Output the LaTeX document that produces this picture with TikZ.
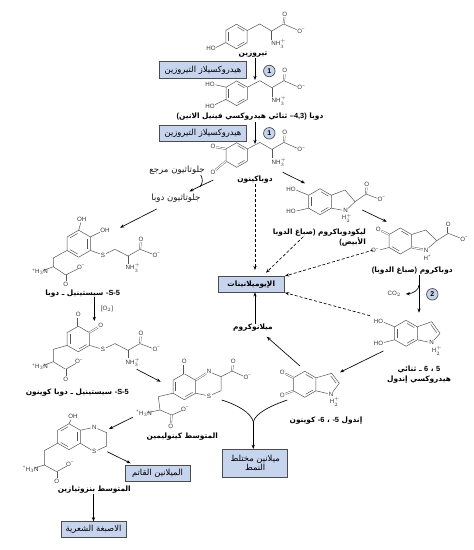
\documentclass[tikz,border=0pt]{standalone}
\usepackage{fontspec}
\usetikzlibrary{arrows.meta}
\setmainfont{Liberation Sans}
\newfontfamily\arf[Script=Arabic]{DejaVu Sans}
\TeXXeTstate=1
\definecolor{boxfill}{HTML}{C6D4EE}
\definecolor{bond}{HTML}{555555}
\tikzset{
 x=1pt,y=-1pt,
 bd/.style={draw=bond,line width=.5pt},
 dbd/.style={draw=bond,double,double distance=1.1pt,line width=.4pt},
 toL/.style={shorten >=3.4pt},
 fromL/.style={shorten <=3.4pt},
 chem/.style={inner sep=0pt,font=\fontsize{6.2}{7}\selectfont,text=black!80},
 name1/.style={inner sep=0pt,align=center,font=\arf\bfseries\fontsize{7.4}{14}\selectfont},
 plain1/.style={inner sep=0pt,align=center,font=\arf\fontsize{8.6}{14}\selectfont,text=black!90},
 enz/.style={draw=black!70,line width=.7pt,fill=boxfill,inner sep=0pt,align=center,font=\arf\fontsize{8.4}{13}\selectfont},
 stepnum/.style={circle,draw=black!70,line width=.7pt,fill=boxfill,minimum size=11.5pt,inner sep=0pt,font=\bfseries\fontsize{7}{8}\selectfont},
 arr/.style={-{Stealth[length=4.2pt,width=3.2pt]},line width=.65pt,black},
 darr/.style={arr,densely dashed},
}
\newcommand\hexring[4]{\begin{scope}[shift={(#1,#2)},scale=#3]
 \draw[bd] (0,-1)--(.866,-.5)--(.866,.5)--(0,1)--(-.866,.5)--(-.866,-.5)--cycle;
 \foreach \b in {#4}{\ifcase\b\or
 \draw[bd](.08,-.76)--(.64,-.44);\or
 \draw[bd](.66,-.36)--(.66,.36);\or
 \draw[bd](.64,.44)--(.08,.76);\or
 \draw[bd](-.08,.76)--(-.64,.44);\or
 \draw[bd](-.66,.36)--(-.66,-.36);\or
 \draw[bd](-.64,-.44)--(-.08,-.76);\fi}
\end{scope}}
\newcommand\ala[2]{\begin{scope}[shift={(#1,#2)}]
 \draw[bd](0,0)--(12.5,-6.5)--(24.5,.5)--(36.5,-6.5);
 \draw[bd,toL](36.5,-6.5)--(52.5,.5);
 \draw[dbd,toL](36.5,-6.5)--(37.5,-16.5);
 \draw[bd](24.5,.5)--(24.5,9.5);
 \node[chem] at (37.5,-16.5){O};
 \node[chem] at (54,.5){O\textsuperscript{−}};
 \node[chem] at (31.5,13.5){NH$_3^+$};
\end{scope}}
\newcommand\cyst[2]{\begin{scope}[shift={(#1,#2)}]
 \node[chem] at (0,0){S};
 \draw[bd,fromL](0,0)--(12,-5.7)--(25,1)--(37,-5.7);
 \draw[bd,toL](37,-5.7)--(52,0);
 \draw[dbd,toL](37,-5.7)--(38,-16);
 \draw[bd](25,1)--(25,8.5);
 \node[chem] at (53.5,0){O\textsuperscript{−}};
 \node[chem] at (38,-16){O};
 \node[chem] at (30,13){NH$_3^+$};
\end{scope}}
% LL vertex, CH2, CH, N label, C, O- label, O label
\newcommand\ltail[7]{
 \draw[bd](#1)--(#2)--(#3)--(#5);
 \draw[bd,toL](#3)--(#4);
 \draw[bd,toL](#5)--(#6);
 \draw[dbd,toL](#5)--(#7);
 \node[chem] at (#4){\textsuperscript{+}H$_3$N};
 \node[chem] at (#6){O\textsuperscript{−}};
 \node[chem] at (#7){O};
}
\newcommand\ar[1]{\beginR #1\endR}
\newcommand\lt[1]{\beginL{\rmfamily #1}\endL{}}
\begin{document}
\begin{tikzpicture}
\useasboundingbox (0,0) rectangle (474,550);
% ---- tyrosine
\hexring{236.5}{36.5}{12.3}{5,1,3}
\draw[bd,toL](225.8,42.6)--(213,49);
\node[chem] (hoT) at (211,48){HO};
\ala{247.2}{30.5}
\node[name1] (tyr) at (253,54.5){\ar{تيروزين}};
% ---- DOPA
\hexring{236.7}{93.3}{12.3}{5,1,3}
\draw[bd,toL](226,87.2)--(212,84);
\draw[bd,toL](226,99.4)--(212,106);
\node[chem] at (210,84){HO};
\node[chem] at (210,106){HO};
\ala{247.4}{87.2}
\node[name1] (dopa) at (250,116.7){\ar{دوبا \lt{–4,3)} ثنائي هيدروكسي فينيل الانين\lt{(}}};
% ---- dopaquinone
\hexring{236.7}{155}{12.3}{1,3}
\draw[dbd,toL](226,148.9)--(213,146.7);
\draw[dbd,toL](226,161.1)--(213,172);
\node[chem] at (213,146.7){O};
\node[chem] at (213,172){O};
\ala{247.4}{148.9}
\node[name1] (dq) at (255,180){\ar{دوباكينون}};
% ---- enzyme boxes
\node[enz,minimum width=87pt,minimum height=17pt] (e1) at (203,70.3){\ar{هيدروكسيلاز التيروزين}};
\node[enz,minimum width=87pt,minimum height=16.5pt] (e2) at (203,133.3){\ar{هيدروكسيلاز التيروزين}};
\node[stepnum] (n1) at (269.3,71){1};
\node[stepnum] (n2) at (269.3,133.3){1};
% ---- glutathione
\node[plain1] (gsh) at (177,170){\ar{جلوتاثيون مرجع}};
\node[plain1] (gsd) at (176,198){\ar{جلوتاثيون دوبا}};
% ---- S-cysteinyl dopa
\hexring{78.7}{243.7}{13.5}{2,6,4}
\draw[bd,toL](78.7,230.2)--(81.7,219.3);
\draw[bd,toL](90.4,236.9)--(103,230.7);
\draw[bd,toL](90.4,250.4)--(103,255);
\node[chem] at (81.7,219.3){OH};
\node[chem] at (105,230.7){OH};
\cyst{103}{255}
\ltail{67,250.4}{53.3,258}{53.3,266.7}{40,271.7}{65.7,275}{81,267.3}{65.7,284}
\node[name1] (cd) at (82.7,293.3){\ar{\lt{-S-5} سيستينيل ـ دوبا}};
\node[chem] (o2) at (107,309){[O$_2$]};
% ---- S-cysteinyl dopaquinone
\hexring{78.3}{339}{12.8}{5,3}
\draw[dbd,toL](78.3,326.2)--(78.3,314.3);
\draw[dbd,toL](89.4,332.6)--(100.7,325.7);
\draw[bd,toL](89.4,345.4)--(103,349.3);
\node[chem] at (78.3,314.3){O};
\node[chem] at (100.7,325.7){O};
\cyst{103}{349.3}
\ltail{67.2,345.4}{53.3,349.3}{53.3,361.7}{40,366.7}{65.7,369.3}{79,361.7}{65.7,379}
\node[name1] (cq) at (77.3,392.3){\ar{\lt{-S-5} سيستينيل ـ دوبا كوينون}};
% ---- quinolimine
\hexring{184.3}{386.7}{13}{5,3}
\draw[dbd,toL](184.3,373.7)--(184.3,361.7);
\node[chem] at (184.3,361.7){O};
\draw[dbd,toL](195.6,380.2)--(209,371.7);
\node[chem] at (209,371.7){N};
\draw[bd,fromL](209,371.7)--(221,376.7)--(221,390.7);
\draw[bd,toL](221,390.7)--(209,396);
\draw[bd,toL](195.6,393.2)--(209,396);
\node[chem] at (209,396){S};
\draw[bd](221,376.7)--(232,371);
\draw[dbd,toL](232,371)--(233.3,361.7);
\draw[bd,toL](232,371)--(246,377.3);
\node[chem] at (233.3,361.7){O};
\node[chem] at (247.5,377.3){O\textsuperscript{−}};
\ltail{173,393.2}{158.3,396.7}{160,410}{144,413.3}{171.7,415}{185,409.3}{170.7,426}
\node[name1] (qi) at (182.3,436.7){\ar{المتوسط كينوليمين}};
% ---- benzothiazine
\hexring{69}{436.7}{13}{2,6,4}
\draw[bd,toL](69,423.7)--(72.3,416.7);
\node[chem] at (73,416.7){OH};
\draw[bd,toL](80.3,430.2)--(94.3,427.3);
\node[chem] at (94.3,427.3){N};
\draw[bd,fromL](94.3,427.3)--(106.7,432.7)--(106.7,446);
\draw[bd,toL](106.7,446)--(94.3,451.7);
\draw[bd,toL](80.3,443.2)--(94.3,451.7);
\node[chem] at (94.3,451.7){S};
\ltail{57.7,443.2}{44.3,450.7}{44.3,465}{30.7,469.3}{56.7,471.7}{70,464.3}{56.7,481}
\node[name1] (bz) at (94.3,490){\ar{المتوسط بنزوثيازين}};
% ---- boxes low
\node[enz,minimum width=65pt,minimum height=15.5pt] (dark) at (157.5,473.3){\ar{الميلانين القاتم}};
\node[enz,minimum width=65pt,minimum height=15.5pt] (hair) at (93.5,529.5){\ar{الاصبغة الشعرية}};
\node[enz,minimum width=65pt,minimum height=28pt] (mix) at (255.2,463.3){\ar{ميلانين مختلط}\\[-4pt]\ar{النمط}};
\node[enz,minimum width=66pt,minimum height=15.5pt,font=\arf\bfseries\fontsize{7.4}{13}\selectfont] (eu) at (251.2,284.2){\ar{الإيوميلانينات}};
% ---- leucodopachrome
\hexring{320}{201.7}{13}{5,1,3}
\draw[bd,toL](308.7,195.2)--(293.3,189);
\draw[bd,toL](308.7,208.2)--(293.3,211.7);
\node[chem] at (291,189){HO};
\node[chem] at (291,211.7){HO};
\draw[bd](331.3,195.2)--(345,190)--(355,201.7);
\draw[bd,toL](331.3,208.2)--(345.7,210.7);
\draw[bd,toL](355,201.7)--(345.7,210.7);
\node[chem] at (345.7,210.7){N};
\node[chem] at (347,218.2){H$_2^+$};
\draw[bd](355,201.7)--(366,194);
\draw[dbd,toL](366,194)--(366.7,184.3);
\draw[bd,toL](366,194)--(380,199.3);
\node[chem] at (366.7,184.3){O};
\node[chem] at (381.5,199.3){O\textsuperscript{−}};
\node[name1,align=right,anchor=east] (ld) at (366,237.5){\ar{ليكودوباكروم \lt{)}صباغ الدوبا}\\[-4pt]\ar{الأبيض\lt{(}}};
% ---- dopachrome
\hexring{400.3}{241}{13}{1,4}
\draw[dbd,toL](389,234.5)--(378.3,229.3);
\draw[bd,toL](389,247.5)--(376.7,250.7);
\node[chem] at (378.3,229.3){O};
\node[chem] at (375,250.7){O\textsuperscript{−}};
\draw[bd](411.6,234.5)--(425.7,230)--(436.7,240.7);
\draw[dbd,toL](411.6,247.5)--(426,250);
\draw[bd,toL](436.7,240.7)--(426,250);
\node[chem] at (426,250){N};
\node[chem] at (427.5,257.5){H\textsuperscript{+}};
\draw[bd](436.7,240.7)--(448.3,233.3);
\draw[dbd,toL](448.3,233.3)--(448.3,224);
\draw[bd,toL](448.3,233.3)--(462.7,239);
\node[chem] at (448.3,224){O};
\node[chem] at (464.2,239){O\textsuperscript{−}};
\node[name1] (dc) at (412.3,270.7){\ar{دوباكروم \lt{)}صباغ الدوبا\lt{(}}};
\node[chem] (co2) at (394.3,294){CO$_2$};
\node[stepnum] (n3) at (432.3,294.3){2};
% ---- DHI
\hexring{406}{333.3}{13}{5,1,3}
\draw[bd,toL](394.7,326.8)--(380.7,321);
\draw[bd,toL](394.7,339.8)--(380.7,343.3);
\node[chem] at (378.5,321){HO};
\node[chem] at (378.5,343.3){HO};
\draw[bd](417.3,326.8)--(431.7,321.7)--(440,333.3);
\draw[bd](430.8,324.4)--(436.6,332.6);
\draw[bd,toL](440,333.3)--(431.7,342.7);
\draw[bd,toL](417.3,339.8)--(431.7,342.7);
\node[chem] at (431.7,342.7){N};
\node[chem] at (437,350.5){H$_2^+$};
\node[name1] (dhi) at (419,375){\ar{\lt{5} ، \lt{6} ـ ثنائي}\\[-4pt]\ar{هيدروكسي إندول}};
% ---- indolequinone
\hexring{304.7}{384.3}{13}{1,3}
\draw[dbd,toL](293.4,377.8)--(282.3,372.3);
\draw[dbd,toL](293.4,390.8)--(282.3,395);
\node[chem] at (282.3,372.3){O};
\node[chem] at (282.3,395){O};
\draw[bd](316,377.8)--(331.7,373.3)--(339.3,383.3);
\draw[bd](330.8,376)--(336.2,383.2);
\draw[bd,toL](339.3,383.3)--(331,394.3);
\draw[bd,toL](316,390.8)--(331,394.3);
\node[chem] at (331,394.3){N};
\node[chem] at (335,402){H$_2^+$};
\node[name1] (iq) at (326,421){\ar{إندول \lt{-5} ، \lt{-6} كوينون}};
\node[name1] (mc) at (253,328){\ar{ميلانوكروم}};
% ---- free connector ends
\coordinate (a1s) at (255,58); \coordinate (a1e) at (255,80);
\coordinate (a2s) at (255,122); \coordinate (a2e) at (255,144);
\coordinate (g1) at (213.3,180); \coordinate (g2) at (189.5,191.5); \coordinate (g3) at (200.7,175); \coordinate (g4) at (200,186.7);
\coordinate (b1s) at (156.7,209); \coordinate (b1e) at (120,227.7);
\coordinate (b2s) at (94.3,297); \coordinate (b2e) at (94.3,321);
\coordinate (b3s) at (136.7,369.3); \coordinate (b3e) at (160.7,381.7);
\coordinate (b4s) at (132.7,417.3); \coordinate (b4e) at (109,429);
\coordinate (b5s) at (107.3,451.7); \coordinate (b5e) at (130.7,463.3);
\coordinate (c1s) at (282.7,172.3); \coordinate (c1e) at (305,183.3);
\coordinate (c2s) at (362.3,210); \coordinate (c2e) at (386.7,221.7);
\coordinate (c3s) at (419,275); \coordinate (c3e) at (419,312.7); \coordinate (c3m) at (419,285);
\coordinate (c4e) at (405.7,294);
\coordinate (c5s) at (383.3,351); \coordinate (c5e) at (340,372.3);
\coordinate (c6s) at (300,366); \coordinate (c6e) at (266.7,336.7);
\coordinate (m1) at (221.7,400); \coordinate (m2) at (287.3,400); \coordinate (mm) at (253.3,421.7);
\coordinate (d1s) at (255,184); \coordinate (d1e) at (255,270);
\coordinate (d2s) at (303.3,236.7); \coordinate (d2e) at (266,272.7);
\coordinate (d3s) at (373.3,250); \coordinate (d3e) at (285,276);
\coordinate (d4s) at (370,315.7); \coordinate (d4e) at (285,292.7);
% ---- connectors
\draw[arr](a1s)--(a1e);
\draw[arr](a2s)--(a2e);
\draw[arr](g1) .. controls (205,184) and (198,187) .. (g2);
\draw[line width=.65pt](g3) .. controls (203,179) and (203,183) .. (g4);
\draw[arr](b1s)--(b1e);
\draw[arr](b2s)--(b2e);
\draw[arr](b3s)--(b3e);
\draw[arr](b4s)--(b4e);
\draw[arr](b5s)--(b5e);
\draw[arr](bz.south -| hair.north)--(hair.north);
\draw[arr](c1s)--(c1e);
\draw[arr](c2s)--(c2e);
\draw[arr](c3s)--(c3e);
\draw[arr](c3m) .. controls (419,290) and (413,293.5) .. (c4e);
\draw[arr](c5s)--(c5e);
\draw[arr](c6s)--(c6e);
\draw[line width=.65pt](m1) .. controls (238,405) and (251,413) .. (mm);
\draw[line width=.65pt](m2) .. controls (270,406) and (256,413) .. (mm);
\draw[arr](mm)--(mix.north -| mm);
\draw[darr](d1s)--(d1e);
\draw[darr](d2s)--(d2e);
\draw[darr](d3s)--(d3e);
\draw[darr](d4s)--(d4e);
\draw[arr](mc.north -| d1e)--(eu.south -| d1e);
\end{tikzpicture}
\end{document}
